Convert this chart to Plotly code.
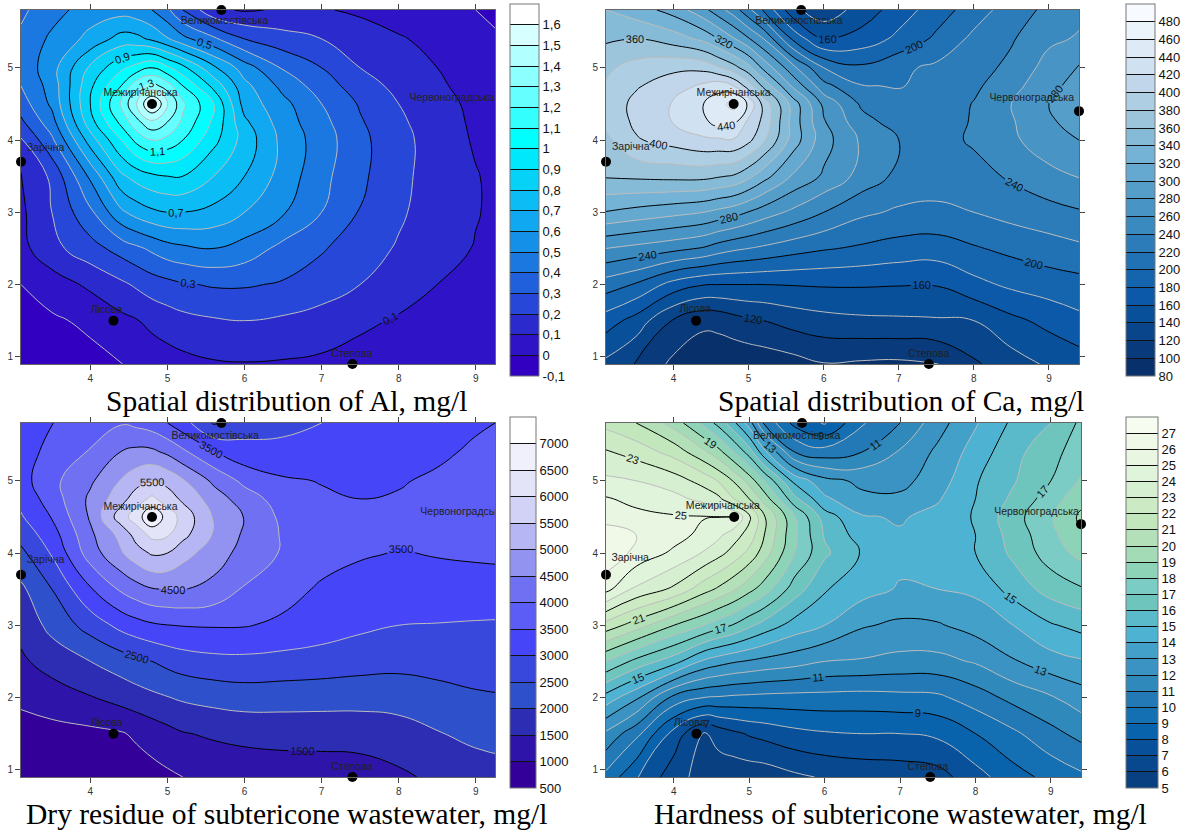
import plotly.graph_objects as go

W, H = 1190, 830

grid_x = [3.1, 3.5, 4, 4.4, 4.6, 4.8, 5, 5.2, 5.6, 6, 6.5, 7, 7.5, 8, 8.5, 9, 9.4]
grid_y = [0.9, 1.5, 2, 2.5, 3, 3.5, 4, 4.25, 4.5, 4.75, 5, 5.4, 5.8]

al_values = [
    [-.09, -.07, -.03, -.002, .02, .04, .055, .07, .09, .095, .09, .08, .06, .04, .03, .02, .01],
    [-.04, -.015, .02, .075, .095, .125, .15, .17, .19, .20, .185, .16, .12, .09, .065, .04, .02],
    [0, .05, .12, .18, .215, .25, .27, .29, .31, .31, .29, .25, .20, .145, .10, .07, .05],
    [.07, .17, .26, .34, .38, .42, .46, .48, .50, .46, .37, .31, .245, .19, .135, .095, .07],
    [.08, .20, .38, .58, .64, .68, .70, .70, .67, .60, .51, .40, .295, .215, .15, .105, .075],
    [.09, .22, .52, .78, .84, .88, .90, .90, .80, .70, .56, .43, .32, .23, .15, .105, .07],
    [.19, .38, .75, 1.0, 1.13, 1.2, 1.17, 1.1, .93, .76, .57, .45, .325, .235, .15, .09, .05],
    [.28, .46, .86, 1.13, 1.27, 1.38, 1.3, 1.18, .98, .72, .55, .43, .31, .22, .14, .085, .05],
    [.35, .52, .90, 1.22, 1.4, 1.62, 1.42, 1.22, 1.0, .66, .53, .40, .29, .20, .13, .08, .05],
    [.40, .54, .88, 1.1, 1.27, 1.34, 1.25, 1.1, .87, .63, .47, .35, .25, .17, .115, .065, .035],
    [.43, .56, .82, .98, 1.04, 1.1, 1.02, .93, .72, .55, .39, .30, .20, .15, .10, .05, .02],
    [.42, .52, .63, .74, .73, .68, .61, .53, .42, .30, .24, .20, .16, .11, .07, .03, 0],
    [.38, .46, .55, .56, .54, .50, .42, .30, .12, .09, .11, .11, .08, .05, .02, 0, -.02],
]
ca_values = [
    [135, 119, 95, 88, 86, 84, 85, 87, 92, 99, 97, 96, 99, 117, 131, 143, 150],
    [170, 152, 118, 104, 106, 112, 117, 120, 128, 133, 136, 137, 138, 140, 155, 166, 175],
    [210, 198, 172, 161, 160, 160, 160, 160, 161, 162, 162, 161, 161, 174, 184, 190, 193],
    [260, 254, 246, 238, 230, 224, 220, 216, 208, 202, 197, 192, 190, 198, 205, 211, 216],
    [319, 313, 306, 300, 294, 288, 279, 270, 255, 240, 224, 217, 216, 220, 227, 233, 238],
    [362, 364, 366, 366, 362, 358, 345, 328, 297, 277, 253, 235, 229, 232, 243, 254, 261],
    [375, 398, 408, 416, 417, 418, 405, 383, 330, 288, 257, 240, 232, 243, 256, 272, 280],
    [385, 404, 421, 436, 447, 444, 415, 395, 330, 282, 247, 232, 229, 242, 258, 277, 288],
    [388, 405, 422, 440, 451, 468, 436, 393, 330, 275, 237, 226, 228, 241, 260, 280, 292],
    [382, 398, 410, 424, 432, 420, 390, 355, 295, 247, 221, 219, 225, 236, 253, 274, 288],
    [376, 388, 396, 394, 382, 368, 347, 315, 265, 220, 204, 216, 224, 232, 245, 268, 282],
    [357, 360, 350, 335, 320, 302, 282, 260, 195, 158, 168, 185, 204, 225, 238, 256, 262],
    [340, 330, 312, 286, 268, 250, 225, 198, 145, 128, 148, 170, 190, 210, 230, 245, 255],
]
dry_values = [
    [660, 640, 620, 680, 750, 820, 910, 1000, 1120, 1200, 1230, 1240, 1280, 1420, 1590, 1760, 1810],
    [800, 830, 880, 960, 1080, 1220, 1350, 1470, 1570, 1630, 1670, 1680, 1690, 1760, 1970, 2120, 2200],
    [1100, 1260, 1470, 1680, 1790, 1890, 1980, 2070, 2170, 2240, 2220, 2200, 2190, 2230, 2330, 2430, 2470],
    [1420, 1700, 2000, 2250, 2380, 2500, 2640, 2750, 2850, 2870, 2830, 2780, 2700, 2640, 2680, 2740, 2760],
    [1650, 2150, 2700, 3150, 3310, 3430, 3490, 3520, 3540, 3530, 3400, 3250, 3100, 3000, 2980, 2950, 2930],
    [1900, 2500, 3450, 4080, 4300, 4470, 4510, 4520, 4350, 3950, 3690, 3430, 3280, 3230, 3300, 3330, 3350],
    [2380, 3050, 4250, 4950, 5300, 5560, 5500, 5180, 4750, 4320, 3950, 3700, 3560, 3475, 3530, 3560, 3575],
    [2680, 3270, 4400, 5150, 5700, 6130, 6050, 5650, 4950, 4420, 3950, 3680, 3570, 3560, 3590, 3610, 3620],
    [2950, 3530, 4560, 5780, 6250, 6950, 6300, 5820, 4950, 4480, 3880, 3650, 3570, 3600, 3620, 3650, 3660],
    [3140, 3740, 4600, 5300, 5780, 6100, 5750, 5400, 4750, 4260, 3750, 3560, 3500, 3530, 3610, 3640, 3660],
    [3300, 3870, 4420, 5030, 5300, 5500, 5350, 5050, 4400, 3870, 3560, 3480, 3430, 3470, 3560, 3620, 3650],
    [3280, 3650, 4040, 4510, 4620, 4600, 4400, 4100, 3530, 3170, 3160, 3230, 3280, 3320, 3430, 3560, 3640],
    [3050, 3490, 3750, 3960, 3880, 3750, 3500, 3200, 2450, 2780, 2850, 3000, 3100, 3200, 3330, 3450, 3530],
]
hard_values = [
    [9.7, 8.1, 6.4, 5.6, 5.4, 5.3, 5.35, 5.4, 5.8, 6.1, 6.3, 6.4, 6.6, 7.6, 8.6, 9.3, 9.8],
    [11.8, 10.3, 7.6, 5.9, 6.4, 6.8, 7.1, 7.3, 7.7, 7.9, 8.0, 8.0, 8.2, 9.0, 9.8, 10.7, 11.3],
    [14.6, 13.2, 10.7, 10.0, 9.9, 9.8, 9.75, 9.7, 9.65, 9.65, 9.6, 9.7, 9.8, 10.5, 11.3, 11.9, 12.5],
    [18.0, 16.7, 15.4, 13.8, 13.4, 13.1, 12.9, 12.7, 12.4, 12.0, 11.9, 11.7, 11.7, 12.1, 12.9, 13.6, 13.9],
    [21.6, 20.5, 19.0, 18.0, 17.4, 16.9, 16.2, 15.6, 14.6, 14.0, 13.1, 12.8, 12.9, 13.4, 14.0, 14.9, 15.3],
    [25.3, 23.8, 22.8, 21.4, 20.8, 20.1, 19.3, 18.5, 16.5, 15.1, 14.4, 13.9, 14.0, 14.2, 15.4, 16.4, 16.9],
    [26.8, 25.7, 24.8, 23.9, 23.3, 22.6, 21.7, 20.5, 18.0, 16.2, 14.9, 14.3, 14.4, 15.0, 16.2, 17.5, 18.3],
    [26.4, 26.0, 25.4, 24.7, 24.2, 23.4, 22.6, 21.0, 18.2, 15.9, 14.5, 14.1, 14.4, 15.0, 16.4, 17.7, 18.9],
    [25.7, 25.3, 25.1, 25.05, 25.02, 25.0, 23.2, 21.1, 18.1, 15.5, 14.1, 13.9, 14.3, 15.1, 16.6, 17.9, 19.2],
    [25.1, 24.7, 24.3, 23.7, 23.2, 22.0, 21.0, 19.6, 16.3, 14.2, 13.2, 13.2, 13.9, 15.0, 16.2, 17.5, 18.7],
    [24.2, 24.0, 23.5, 22.6, 21.9, 20.9, 19.6, 18.0, 14.7, 13.3, 12.8, 12.7, 13.5, 14.9, 15.9, 17.0, 18.1],
    [23.1, 22.6, 21.6, 20.2, 19.3, 18.0, 16.5, 14.3, 11.0, 10.4, 11.0, 12.1, 13.2, 14.4, 15.7, 16.6, 17.6],
    [21.7, 21.0, 19.6, 17.7, 16.6, 15.2, 13.5, 10.8, 8.7, 7.9, 9.9, 11.0, 12.6, 13.9, 15.2, 16.0, 17.2],
]

# ---- colour bands (bottom to top), levels and bar labels
al_colors = ["#3100C0", "#2E14C6", "#2B2ACC", "#2747D8", "#2060DC", "#1A78E0", "#1490E8",
             "#10A8F0", "#0CBCF4", "#06D2F8", "#00E8FC", "#00FFFF", "#33FFFF", "#66FFFF",
             "#8CFFFF", "#B2FFFF", "#D8FFFF", "#FFFFFF"]
ca_colors = ["#08306B", "#083A7C", "#08458B", "#08509A", "#0B59A8", "#1565AE", "#2171B5",
             "#2C7CBA", "#3A8AC0", "#4794C5", "#569ECA", "#65A9D0", "#74B3D5", "#86BBD8",
             "#9CC5DC", "#AECFE3", "#C1D6EB", "#D0E1F2", "#DEEBF7", "#EBF3FB", "#F7FBFF"]
dry_colors = ["#330099", "#2E14A8", "#2D2DB4", "#2E50CB", "#3848DD", "#4646F8", "#5C5CF6",
              "#7070F2", "#9292F0", "#B6B6F4", "#D2D2F6", "#E4E4F9", "#F0F0FC", "#FFFFFF"]
hard_colors = ["#084081", "#08488E", "#08519A", "#0862AC", "#1470B2", "#2279B5", "#2F8ABB",
               "#3A93C2", "#43A0C9", "#4EB3D3", "#5BBAC9", "#6EC5BE", "#7BCCC4", "#8DD3B8",
               "#A3DBB7", "#B3E0B8", "#C3E7BD", "#CCEBC5", "#D6EFD0", "#E0F3DB", "#E8F6E2",
               "#F0F9E8", "#F7FCF0"]

al_ticks = ["-0,1", "0", "0,1", "0,2", "0,3", "0,4", "0,5", "0,6", "0,7", "0,8", "0,9", "1",
            "1,1", "1,2", "1,3", "1,4", "1,5", "1,6"]
ca_ticks = [str(v) for v in range(80, 481, 20)]
dry_ticks = [str(v) for v in range(500, 7001, 500)]
hard_ticks = [str(v) for v in range(5, 28)]

titles = ["Spatial distribution of Al, mg/l", "Spatial distribution of Ca, mg/l",
          "Dry residue of subtericone wastewater, mg/l", "Hardness of subtericone wastewater, mg/l"]

# ---- wells
well_names = ["Великомостівська", "Межирічанська", "Червоноградська", "Зарічна", "Лісова", "Степова"]
well_x = [5.7, 4.8, 9.4, 3.1, 4.3, 7.4]
well_y = [5.8, 4.5, 4.4, 3.7, 1.5, 0.9]
label_x_al = [5.74, 4.65, 8.69, 3.42, 4.21, 7.39]
label_y_al = [5.64, 4.64, 4.57, 3.88, 1.64, 1.03]
label_x_ca = [5.67, 4.80, 8.77, 3.43, 4.29, 7.40]
label_y_ca = [5.64, 4.65, 4.58, 3.90, 1.65, 1.04]
label_x_dry = [5.62, 4.65, 8.83, 3.42, 4.21, 7.39]
label_y_dry = [5.61, 4.63, 4.56, 3.90, 1.64, 1.04]
label_x_hard = [5.63, 4.65, 8.81, 3.42, 4.21, 7.37]
label_y_hard = [5.62, 4.64, 4.56, 3.92, 1.64, 1.04]

panels = [
    dict(z=al_values, colors=al_colors, ticks=al_ticks, low=-0.1, step=0.1, fmt=".1f",
         black0=0.1, gray0=0.0, xmax=9.25, box=(21, 495, 10, 364), bar=(510, 539, 4, 376),
         lx=label_x_al, ly=label_y_al, right_ticks=False, title_xy=(286, 401)),
    dict(z=ca_values, colors=ca_colors, ticks=ca_ticks, low=80, step=20, fmt=".0f",
         black0=120, gray0=100, xmax=9.4, box=(606, 1079, 10, 364), bar=(1126, 1155, 4, 376),
         lx=label_x_ca, ly=label_y_ca, right_ticks=True, title_xy=(901, 401)),
    dict(z=dry_values, colors=dry_colors, ticks=dry_ticks, low=500, step=500, fmt=".0f",
         black0=1500, gray0=1000, xmax=9.25, box=(21, 495, 423, 777), bar=(510, 536, 417, 788),
         lx=label_x_dry, ly=label_y_dry, right_ticks=False, title_xy=(286, 814)),
    dict(z=hard_values, colors=hard_colors, ticks=hard_ticks, low=5, step=1, fmt=".0f",
         black0=7, gray0=6, xmax=9.4, box=(606, 1081, 423, 777), bar=(1126, 1158, 417, 788),
         lx=label_x_hard, ly=label_y_hard, right_ticks=True, title_xy=(900, 814)),
]

SANS = "Liberation Sans"
fig = go.Figure()
layout = dict(width=W, height=H, margin=dict(l=0, r=0, t=0, b=0, autoexpand=False), showlegend=False,
              paper_bgcolor="white", plot_bgcolor="white", separators=",.",
              font=dict(family=SANS), annotations=[])

for i, p in enumerate(panels, start=1):
    xa, ya = ("x", "y") if i == 1 else (f"x{i}", f"y{i}")
    x0, x1, y0, y1 = p["box"]
    n = len(p["colors"])
    top = p["low"] + n * p["step"]
    levels = [p["low"] + k * p["step"] for k in range(1, n)]
    scale = [[k / (n - 1), c] for k, c in enumerate(p["colors"])]
    bx0, bx1, by0, by1 = p["bar"]
    tickvals = [p["low"] + k * p["step"] for k in range(len(p["ticks"]))]

    fig.add_trace(go.Contour(
        x=grid_x, y=grid_y, z=p["z"], xaxis=xa, yaxis=ya, colorscale=scale,
        zmin=p["low"], zmax=top, autocontour=False,
        contours=dict(start=levels[0], end=levels[-1], size=p["step"], coloring="fill", showlines=False),
        line=dict(width=0, smoothing=1.3), hoverinfo="skip",
        colorbar=dict(
            x=bx0 / W, xanchor="left", y=1 - by0 / H, yanchor="top", xpad=0, ypad=0,
            lenmode="pixels", len=by1 - by0, thicknessmode="pixels", thickness=bx1 - bx0,
            tickmode="array", tickvals=tickvals, ticktext=p["ticks"],
            ticks="inside", ticklen=bx1 - bx0, tickwidth=1, tickcolor="#111111",
            tickfont=dict(family=SANS, size=13, color="#111111"),
            outlinecolor="#777777", outlinewidth=1, borderwidth=0),
    ))
    fig.add_trace(go.Contour(
        x=grid_x, y=grid_y, z=p["z"], xaxis=xa, yaxis=ya, showscale=False,
        autocontour=False, hoverinfo="skip",
        contours=dict(start=p["gray0"], end=levels[-1], size=2 * p["step"], coloring="none"),
        line=dict(color="#BDBDBD", width=1, smoothing=1.3),
    ))
    fig.add_trace(go.Contour(
        x=grid_x, y=grid_y, z=p["z"], xaxis=xa, yaxis=ya, showscale=False,
        autocontour=False, hoverinfo="skip",
        contours=dict(start=p["black0"], end=levels[-1], size=2 * p["step"], coloring="none",
                      showlabels=True, labelformat=p["fmt"],
                      labelfont=dict(family=SANS, size=11, color="#111111")),
        line=dict(color="black", width=1, smoothing=1.3),
    ))
    fig.add_trace(go.Scatter(
        x=p["lx"], y=p["ly"], text=well_names, mode="text", xaxis=xa, yaxis=ya,
        textposition="middle center", cliponaxis=True, hoverinfo="skip",
        textfont=dict(family=SANS, size=10.5, color="#222222"),
    ))
    shown = [j for j, wx in enumerate(well_x) if wx <= p["xmax"]]
    fig.add_trace(go.Scatter(
        x=[well_x[j] for j in shown], y=[well_y[j] for j in shown], mode="markers",
        xaxis=xa, yaxis=ya, cliponaxis=False, hoverinfo="skip",
        marker=dict(color="black", size=10),
    ))

    suffix = "" if i == 1 else str(i)
    layout["xaxis" + suffix] = dict(
        domain=[x0 / W, x1 / W], range=[3.1, p["xmax"]], anchor=ya, tickvals=[4, 5, 6, 7, 8, 9],
        ticks="outside", ticklen=5, tickcolor="#444444", mirror="ticks", showline=True,
        linecolor="#666666", linewidth=1, showgrid=False, zeroline=False,
        tickfont=dict(family=SANS, size=10, color="#333333"))
    layout["yaxis" + suffix] = dict(
        domain=[1 - y1 / H, 1 - y0 / H], range=[0.9, 5.8], anchor=xa, tickvals=[1, 2, 3, 4, 5],
        ticks="outside", ticklen=5, tickcolor="#444444",
        mirror="ticks" if p["right_ticks"] else True, showline=True,
        linecolor="#666666", linewidth=1, showgrid=False, zeroline=False,
        tickfont=dict(family=SANS, size=10, color="#333333"))
    tx, ty = p["title_xy"]
    layout["annotations"].append(dict(
        text=titles[i - 1], xref="paper", yref="paper", x=tx / W, y=1 - ty / H,
        xanchor="center", yanchor="middle", showarrow=False,
        font=dict(family="Liberation Serif", size=29.5, color="black")))

fig.update_layout(**layout)
fig.write_html("out.html", config={"displayModeBar": False},
               post_script="document.body.style.margin='0';")
